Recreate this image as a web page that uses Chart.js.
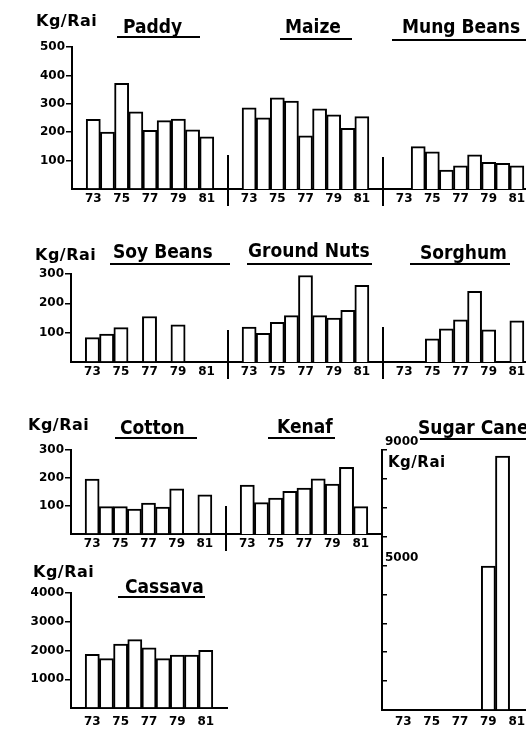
<!DOCTYPE html>
<html>
<head>
<meta charset="utf-8">
<script src="https://cdn.jsdelivr.net/npm/chart.js@4/dist/chart.umd.min.js"></script>
<style>
  html, body { margin: 0; padding: 0; background: #fff; }
  #wrap { position: relative; width: 526px; height: 732px; overflow: hidden; background: #fff; }
  #wrap canvas { position: absolute; left: 0; top: 0; }
  .t { position: absolute; font-family: "DejaVu Sans", sans-serif; font-weight: bold; color: #000; line-height: 1; white-space: nowrap; }
  .title { font-size: 19px; transform: scaleX(0.9); transform-origin: 0 0; }
  .unit { font-size: 16px; letter-spacing: 0.5px; }
  .ul { position: absolute; height: 2px; background: #000; }
</style>
</head>
<body>
<div id="wrap">
  <div class="t unit" style="left:36px;top:13px">Kg/Rai</div>
  <div class="t title" style="left:123px;top:16.9px">Paddy</div>
  <div class="ul" style="left:117px;top:36px;width:83px"></div>
  <div class="t title" style="left:285px;top:16.9px">Maize</div>
  <div class="ul" style="left:280px;top:38px;width:72px"></div>
  <div class="t title" style="left:402px;top:16.9px">Mung Beans</div>
  <div class="ul" style="left:392px;top:39px;width:140px"></div>

  <div class="t unit" style="left:35px;top:247.3px">Kg/Rai</div>
  <div class="t title" style="left:113px;top:241.7px">Soy Beans</div>
  <div class="ul" style="left:110px;top:263px;width:120px"></div>
  <div class="t title" style="left:248px;top:240.9px">Ground Nuts</div>
  <div class="ul" style="left:247px;top:263px;width:125px"></div>
  <div class="t title" style="left:420px;top:242.9px">Sorghum</div>
  <div class="ul" style="left:410px;top:263px;width:100px"></div>

  <div class="t unit" style="left:28px;top:417.3px">Kg/Rai</div>
  <div class="t title" style="left:120px;top:417.6px">Cotton</div>
  <div class="ul" style="left:115px;top:437px;width:82px"></div>
  <div class="t title" style="left:277px;top:417.2px">Kenaf</div>
  <div class="ul" style="left:268px;top:437px;width:67px"></div>
  <div class="t title" style="left:418px;top:417.9px">Sugar Cane</div>
  <div class="ul" style="left:420px;top:438px;width:110px"></div>
  <div class="t unit" style="left:388px;top:455px;font-size:15px">Kg/Rai</div>

  <div class="t unit" style="left:33px;top:563.6px">Kg/Rai</div>
  <div class="t title" style="left:125px;top:577.2px">Cassava</div>
  <div class="ul" style="left:118px;top:596px;width:87px"></div>
</div>
<script>
// ---- data (years 1973 .. 1981, null = no bar) ----
const axisYears = ['72','73','74','75','76','77','78','79','80','81','82'];
const paddy      = [245, 200, 372, 272, 207, 241, 246, 208, 184];
const maize      = [286, 251, 321, 310, 187, 282, 261, 214, 255];
const mungBeans  = [null, 149, 131, 67, 82, 120, 94, 90, 82];
const soyBeans   = [83, 95, 117, null, 155, null, 127, null, null];
const groundNuts = [119, 98, 135, 158, 295, 158, 150, 176, 261];
const sorghum    = [null, null, 79, 113, 144, 241, 110, null, 140];
const cotton     = [196, 98, 98, 89, 110, 96, 161, null, 140];
const kenaf      = [175, 112, 128, 152, 164, 197, 178, 238, 98];
const sugarCane  = [null, null, null, null, null, null, 4980, 8790, null];
const cassava    = [1870, 1720, 2220, 2380, 2090, 1720, 1840, 1840, 2010];

const yMaxRow1 = 500, yMaxRow2 = 300, yMaxRow3 = 300, yMaxSugar = 9000, yMaxCassava = 4000;
const sugarLabels = [9000, 5000];

// ---- drawing ----
const W = 545, H = 732;
const wrap = document.getElementById('wrap');

const sepPlugin = {
  id: 'sep',
  afterDraw(chart, args, opts) {
    if (!opts || !opts.show) return;
    const {ctx, chartArea} = chart;
    ctx.save();
    ctx.strokeStyle = '#000';
    ctx.lineWidth = 2;
    ctx.beginPath();
    ctx.moveTo(chartArea.left, chartArea.bottom - opts.up);
    ctx.lineTo(chartArea.left, chartArea.bottom + opts.down);
    ctx.stroke();
    ctx.restore();
  }
};

function panel(values, box, o) {
  const c = document.createElement('canvas');
  c.width = W; c.height = H;
  wrap.insertBefore(c, wrap.firstChild);
  const sugar = !!o.sugar;
  const hasY = !!o.yAxis;
  const yW = (hasY && !sugar) ? box.L : 0;          // left axis box takes the whole left margin
  const xH = Math.min(22, H - box.B);                // bottom axis box height
  new Chart(c, {
    type: 'bar',
    data: {
      labels: axisYears,
      datasets: [{
        data: [null, ...values, null],
        backgroundColor: '#fff',
        borderColor: '#000',
        borderWidth: 2,
        borderSkipped: 'bottom',
        barPercentage: 1,
        categoryPercentage: 1
      }]
    },
    options: {
      responsive: false,
      animation: false,
      events: [],
      layout: { padding: { left: box.L - yW, right: W - box.R, top: box.T, bottom: H - box.B - xH } },
      plugins: {
        legend: { display: false },
        tooltip: { enabled: false },
        sep: { show: !!o.sep, up: o.sepUp || 32, down: 17 }
      },
      scales: {
        x: {
          type: 'category',
          offset: true,
          grid: { display: false, drawTicks: false },
          border: { display: true, color: '#000', width: 2 },
          ticks: {
            autoSkip: false, maxRotation: 0, minRotation: 0,
            padding: o.xpad || 3,
            color: '#000',
            font: { family: 'DejaVu Sans', weight: 'bold', size: 12 },
            callback: function (v) {
              const l = this.getLabelForValue(v);
              return (+l % 2 === 1) ? l : '';
            }
          },
          afterFit: s => { s.height = xH; }
        },
        y: {
          display: hasY,
          min: 0, max: o.max,
          grid: {
            display: true, drawOnChartArea: false, drawTicks: true,
            tickLength: sugar ? -5 : 6,
            lineWidth: 1.5,
            color: ctx => (ctx.tick && ctx.tick.value === 0) ? 'rgba(0,0,0,0)' : '#000'
          },
          border: { display: true, color: '#000', width: 2 },
          ticks: {
            stepSize: o.step,
            color: '#000',
            padding: sugar ? 3 : 1,
            mirror: sugar,
            labelOffset: sugar ? -8 : 0,
            font: { family: 'DejaVu Sans', weight: 'bold', size: 12 },
            callback: v => sugar ? (sugarLabels.includes(v) ? String(v) : '') : (v === 0 ? '' : String(v))
          },
          afterFit: s => { s.width = yW; }
        }
      }
    },
    plugins: [sepPlugin]
  });
}

// row 1
panel(paddy,     {L: 72,  R: 228, T: 47, B: 189}, {max: yMaxRow1, step: 100, yAxis: true});
panel(maize,     {L: 228, R: 383, T: 47, B: 189}, {max: yMaxRow1, step: 100, sep: true, sepUp: 34});
panel(mungBeans, {L: 383, R: 538, T: 47, B: 189}, {max: yMaxRow1, step: 100, sep: true, sepUp: 32});
// row 2
panel(soyBeans,   {L: 71,  R: 228, T: 274, B: 362}, {max: yMaxRow2, step: 100, yAxis: true});
panel(groundNuts, {L: 228, R: 383, T: 274, B: 362}, {max: yMaxRow2, step: 100, sep: true, sepUp: 32});
panel(sorghum,    {L: 383, R: 538, T: 274, B: 362}, {max: yMaxRow2, step: 100, sep: true, sepUp: 35});
// row 3
panel(cotton,    {L: 71,  R: 226, T: 450, B: 534}, {max: yMaxRow3, step: 100, yAxis: true});
panel(kenaf,     {L: 226, R: 382, T: 450, B: 534}, {max: yMaxRow3, step: 100, sep: true, sepUp: 28});
panel(sugarCane, {L: 382, R: 538, T: 450, B: 710}, {max: yMaxSugar, step: 1000, yAxis: true, sugar: true, xpad: 5});
// row 4
panel(cassava,   {L: 71,  R: 227, T: 593, B: 708}, {max: yMaxCassava, step: 1000, yAxis: true, xpad: 7});
</script>
</body>
</html>
